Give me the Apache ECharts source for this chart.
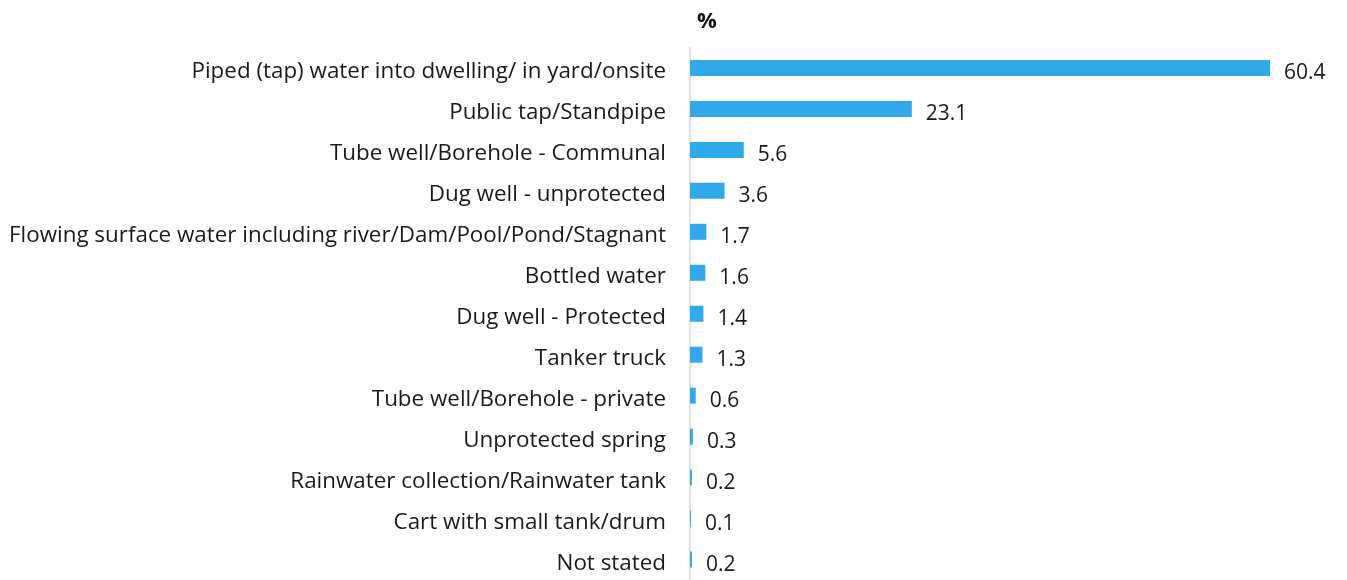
<!DOCTYPE html>
<html>
<head>
<meta charset="utf-8">
<script src="https://cdn.jsdelivr.net/npm/echarts@6/dist/echarts.min.js"></script>
<style>
  html, body { margin: 0; padding: 0; background: #ffffff; }
  #chart { width: 1347px; height: 580px; }
</style>
</head>
<body>
<div id="chart"></div>
<script>
// Main source of drinking water, share of households (%)
const categories = [
  'Piped (tap) water into dwelling/ in yard/onsite',
  'Public tap/Standpipe',
  'Tube well/Borehole - Communal',
  'Dug well - unprotected',
  'Flowing surface water including river/Dam/Pool/Pond/Stagnant',
  'Bottled water',
  'Dug well - Protected',
  'Tanker truck',
  'Tube well/Borehole - private',
  'Unprotected spring',
  'Rainwater collection/Rainwater tank',
  'Cart with small tank/drum',
  'Not stated'
];
const shares = [60.4, 23.1, 5.6, 3.6, 1.7, 1.6, 1.4, 1.3, 0.6, 0.3, 0.2, 0.1, 0.2];
const unitLabel = '%';

const FONT = '"Open Sans", Lato, sans-serif';

const chart = echarts.init(document.getElementById('chart'), null, { renderer: 'canvas' });
chart.setOption({
  animation: false,
  backgroundColor: '#ffffff',
  title: {
    text: unitLabel,
    left: 692,
    top: 6,
    textStyle: { fontFamily: FONT, fontSize: 22, fontWeight: 'bold', color: '#111111' }
  },
  grid: { left: 690, right: 77, top: 47.5, height: 533, containLabel: false },
  xAxis: {
    type: 'value',
    min: 0,
    max: 60.4,
    show: false
  },
  yAxis: {
    type: 'category',
    inverse: true,
    data: categories,
    axisLine: { show: true, lineStyle: { color: '#d9d9d9', width: 1.5 } },
    axisTick: { show: false },
    splitLine: { show: false },
    axisLabel: {
      margin: 24,
      verticalAlign: 'top',
      lineHeight: 8,
      fontFamily: FONT,
      fontSize: 22.4,
      color: '#1a1a1a'
    }
  },
  series: [{
    type: 'bar',
    data: shares,
    barWidth: 16,
    itemStyle: { color: '#2fa9ec' },
    label: {
      show: true,
      position: 'right',
      distance: 14,
      offset: [0, 5],
      fontFamily: FONT,
      fontSize: 21,
      color: '#1a1a1a',
      formatter: p => p.value.toFixed(1)
    }
  }]
});
</script>
</body>
</html>
